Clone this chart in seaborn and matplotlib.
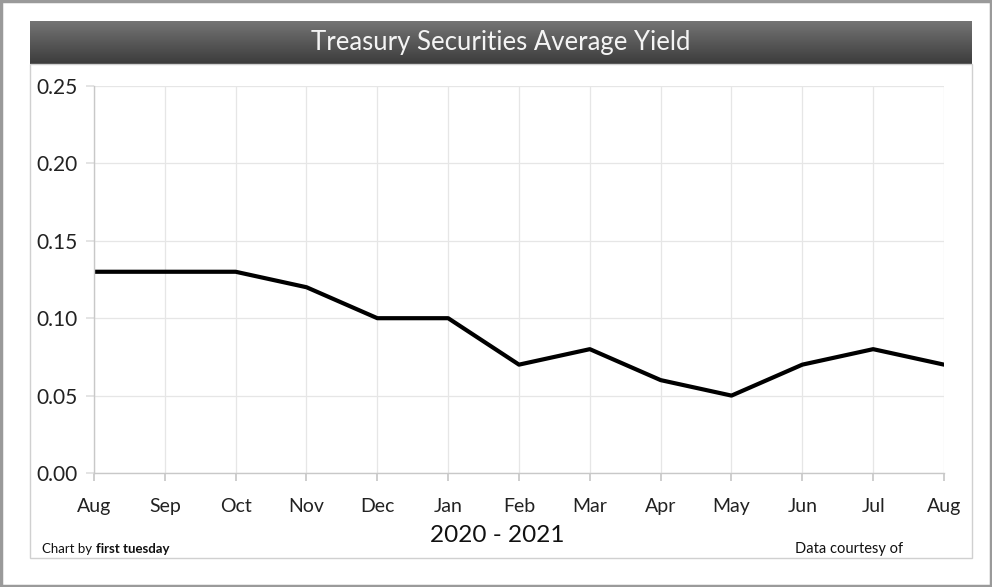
import numpy as np
import pandas as pd
import matplotlib
matplotlib.use("Agg")
import matplotlib.pyplot as plt
from matplotlib.patches import Rectangle
import seaborn as sns

months = ["Aug", "Sep", "Oct", "Nov", "Dec", "Jan", "Feb",
          "Mar", "Apr", "May", "Jun", "Jul", "Aug"]
yields = [0.13, 0.13, 0.13, 0.12, 0.10, 0.10, 0.07,
          0.08, 0.06, 0.05, 0.07, 0.08, 0.07]
y_ticks = [0.00, 0.05, 0.10, 0.15, 0.20, 0.25]
title = "Treasury Securities Average Yield"
period = "2020 - 2021"

sns.set_theme(style="white")
plt.rcParams["font.family"] = ["Lato", "DejaVu Sans"]

W, H = 992, 587
fig = plt.figure(figsize=(W / 100, H / 100), dpi=100)
fig.patch.set_facecolor("white")

def fx(px):
    return px / W

def fy(py):
    return 1 - py / H

# outer frame and inner panel
fig.add_artist(Rectangle((fx(1), fy(586)), fx(990), 585 / H, transform=fig.transFigure,
                         fill=False, edgecolor="#9a9a9a", linewidth=2.5))
fig.add_artist(Rectangle((fx(30), fy(558)), fx(942), (558 - 64) / H, transform=fig.transFigure,
                         fill=False, edgecolor="#d0d0d0", linewidth=1.0))

# title bar with a vertical gradient
bar = fig.add_axes([fx(30), fy(64), fx(942), (64 - 21) / H])
grad = np.linspace(0, 1, 64).reshape(-1, 1)
bar.imshow(grad, aspect="auto", cmap=matplotlib.colors.LinearSegmentedColormap.from_list(
    "bar", ["#747474", "#585858", "#3c3c3c"]), extent=[0, 1, 0, 1], origin="upper")
bar.set_axis_off()
bar.text(0.5, 0.5, title, color="#f4f4f4", fontsize=18.5, ha="center", va="center",
         transform=bar.transAxes)

# main plot area
ax = fig.add_axes([fx(94), fy(473), fx(944 - 94), (473 - 86) / H])
df = pd.DataFrame({"idx": np.arange(len(months)), "yield": yields})
sns.lineplot(data=df, x="idx", y="yield", ax=ax, color="black", linewidth=3.0)

ax.set_xlim(0, len(months) - 1)
ax.set_ylim(0, 0.25)
ax.set_xticks(np.arange(len(months)))
ax.set_xticklabels(months, fontsize=14, color="#222222")
ax.set_yticks(y_ticks)
ax.set_yticklabels([f"{v:.2f}" for v in y_ticks], fontsize=15, color="#222222")
ax.grid(True, color="#e6e6e6", linewidth=0.9)
for side in ["top", "right"]:
    ax.spines[side].set_visible(False)
for side in ["left", "bottom"]:
    ax.spines[side].set_color("#c8c8c8")
    ax.spines[side].set_linewidth(1.0)
ax.tick_params(axis="x", length=6, color="#c8c8c8", pad=12, bottom=True)
ax.tick_params(axis="y", length=6, color="#e0e0e0", pad=6, left=True)
ax.set_xlabel("")
ax.set_ylabel("")

fig.text(fx(497), fy(535), period, fontsize=17.5, ha="center", va="center", color="#111111")

renderer = fig.canvas.get_renderer()
t1 = fig.text(fx(42), fy(549), "Chart by ", fontsize=9.5, ha="left", va="center",
              color="#111111")
bb = t1.get_window_extent(renderer=renderer)
fig.text(bb.x1 / W, fy(549), "first tuesday", fontsize=9.5, fontweight="bold",
         ha="left", va="center", color="#111111")
fig.text(fx(795), fy(549), "Data courtesy of", fontsize=10.5, ha="left", va="center",
         color="#111111")

fig.savefig("out.png", dpi=100, facecolor="white")
